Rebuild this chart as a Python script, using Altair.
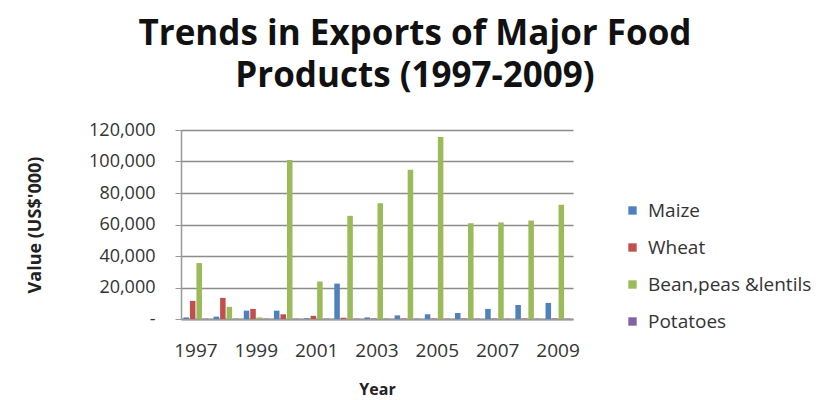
import altair as alt
import pandas as pd

years = [str(y) for y in range(1997, 2010)]
series = ["Maize", "Wheat", "Bean,peas &lentils", "Potatoes"]
maize = [1000, 1500, 5300, 5300, 500, 22500, 1000, 2300, 3000, 3800, 6400, 8900, 10200]
wheat = [11500, 13400, 6400, 3000, 2000, 800, 300, 300, 300, 300, 300, 300, 300]
beans = [35500, 7700, 1000, 101000, 23800, 65500, 73500, 94800, 115500, 60800, 61300, 62500, 72500]
potatoes = [200, 200, 200, 200, 200, 200, 200, 200, 200, 200, 200, 200, 200]
colors = ["#4F81BD", "#C0504D", "#9BBB59", "#8064A2"]

rows = []
for name, vals in zip(series, [maize, wheat, beans, potatoes]):
    for y, v in zip(years, vals):
        rows.append({"Year": y, "Product": name, "Value": v})
df = pd.DataFrame(rows)

FONT = "Open Sans"

chart = alt.Chart(df).mark_bar().encode(
    x=alt.X("Year:N", sort=years,
            scale=alt.Scale(paddingInner=0.17, paddingOuter=0.08),
            axis=alt.Axis(title="Year", labelAngle=0, values=years[::2],
                          labelFontSize=19, labelColor="#333333", labelPadding=22,
                          ticks=False, domainColor="#999999", domainWidth=2,
                          titleFontSize=16, titleFontWeight="bold", titlePadding=21,
                          titleColor="#222222")),
    xOffset=alt.XOffset("Product:N", sort=series, scale=alt.Scale(paddingInner=0.15)),
    y=alt.Y("Value:Q",
            scale=alt.Scale(domain=[0, 120000], nice=False),
            axis=alt.Axis(title="Value (US$'000)", values=list(range(0, 120001, 20000)),
                          labelExpr="datum.value == 0 ? '-' : format(datum.value, ',')",
                          labelFontSize=18, labelColor="#333333", labelPadding=20,
                          ticks=True, tickSize=6, tickColor="#999999",
                          domainColor="#999999", domainWidth=1.5,
                          gridColor="#8c8c8c", gridWidth=1.5,
                          titleFontSize=18, titleFontWeight="bold", titlePadding=44,
                          titleColor="#222222")),
    color=alt.Color("Product:N", sort=series,
                    scale=alt.Scale(domain=series, range=colors),
                    legend=alt.Legend(title=None, orient="none", legendX=442, legendY=71,
                                      symbolType="square", symbolSize=70,
                                      symbolStrokeWidth=0, labelLimit=0,
                                      labelFontSize=19, labelColor="#333333",
                                      rowPadding=17, labelOffset=6)),
).properties(
    width=392, height=189,
    autosize=alt.AutoSizeParams(type="none"),
    padding={"left": 173, "top": 122, "right": 245, "bottom": 80},
    title=alt.Title(["Trends in Exports of Major Food", "Products (1997-2009)"],
                    fontSize=35, fontWeight="bold", font=FONT, color="#111111",
                    lineHeight=42, anchor="middle", dx=38, offset=27),
).configure(font=FONT).configure_view(stroke=None)

chart.save("out.html", embed_options={"renderer": "svg", "actions": False})
